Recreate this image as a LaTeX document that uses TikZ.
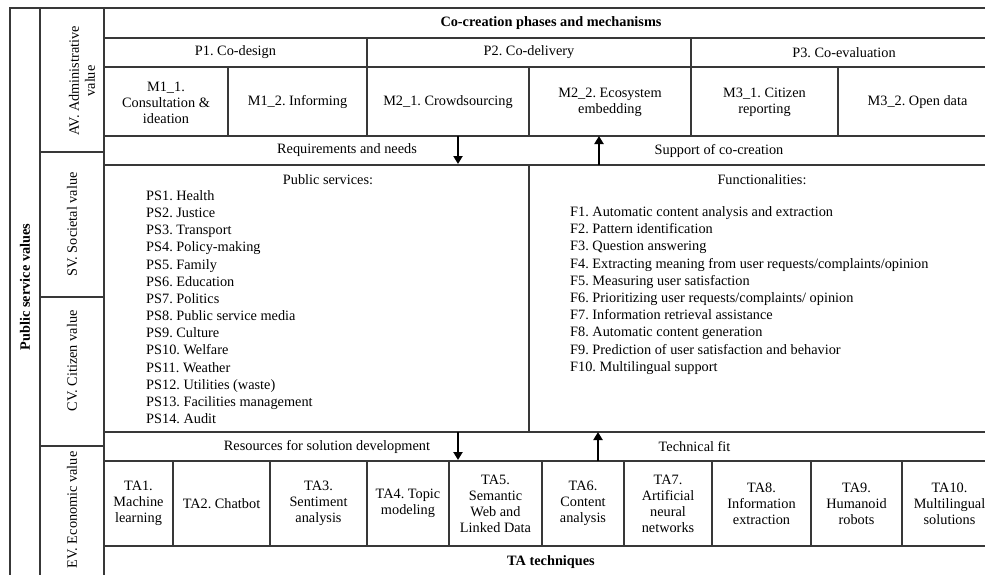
\documentclass[tikz,border=0pt]{standalone}
\usepackage{fontspec}
\setmainfont{Liberation Serif}
\usetikzlibrary{arrows.meta}
\newcommand{\basesize}{\fontsize{14.3}{16}\selectfont\frenchspacing}
\begin{document}
\begin{tikzpicture}[x=1pt,y=-1pt,
  every node/.style={font=\basesize},
  grid/.style={draw=black!78, line width=1.3pt},
  cell/.style={align=center, inner sep=0pt},
  boldtext/.style={font=\basesize\bfseries, inner sep=0pt},
  listitem/.style={anchor=west, inner sep=0pt, text height=10pt, text depth=3pt},
  flowarrow/.style={draw=black, line width=2.6pt, -{Triangle[length=8pt,width=9pt]}},
  vlabel/.style={rotate=90, align=center, inner sep=0pt}]
\fill[white] (0,0) rectangle (985,574);
\clip (0,0) rectangle (985,574);
% grid
\draw[grid] (10,580) -- (10,8) -- (997,8);
\draw[grid] (40,8) -- (40,580);
\draw[grid] (104,8) -- (104,580);
\draw[grid] (40,152) -- (104,152) (40,297) -- (104,297) (40,446) -- (104,446);
\foreach \y in {38,67,136,165,432,461,546} \draw[grid] (104,\y) -- (997,\y);
\draw[grid] (367,38) -- (367,136) (691,38) -- (691,136);
\foreach \x in {228,529,838} \draw[grid] (\x,67) -- (\x,136);
\draw[grid] (529,165) -- (529,432);
\foreach \x in {173,270,367,449,542,624,712,811,902} \draw[grid] (\x,461) -- (\x,546);
% left labels
\node[vlabel, font=\basesize\bfseries] (psv) at (25,287) {Public service values};
\node[vlabel] (av) at (82,81) {AV. Administrative\\value};
\node[vlabel] (sv) at (72,224.5) {SV. Societal value};
\node[vlabel] (cv) at (72,361) {CV. Citizen value};
\node[vlabel] (ev) at (72,510) {EV. Economic value};
% header
\node[boldtext] (title) at (551,23) {Co-creation phases and mechanisms};
\node[cell] (p1) at (235.5,52.5) {P1. Co-design};
\node[cell] (p2) at (529,52.5) {P2. Co-delivery};
\node[cell] (p3) at (844,52.5) {P3. Co-evaluation};
\node[cell] (m11) at (166,102.5) {M1\_1.\\Consultation \&\\ideation};
\node[cell] (m12) at (297.5,102.5) {M1\_2. Informing};
\node[cell] (m21) at (448,102.5) {M2\_1. Crowdsourcing};
\node[cell] (m22) at (610,102.5) {M2\_2. Ecosystem\\embedding};
\node[cell] (m31) at (764.5,102.5) {M3\_1. Citizen\\reporting};
\node[cell] (m32) at (917.5,102.5) {M3\_2. Open data};
\node[cell] (req) at (347,150.5) {Requirements and needs};
\node[cell] (sup) at (719,150.5) {Support of co-creation};
% middle
\node[cell] (pshead) at (328,180) {Public services:};
\node[cell] (fhead) at (762,180) {Functionalities:};
\foreach \t [count=\i] in {PS1. Health, PS2. Justice, PS3. Transport, PS4. Policy-making, PS5. Family, PS6. Education, PS7. Politics, PS8. Public service media, PS9. Culture, PS10. Welfare, PS11. Weather, PS12. Utilities (waste), PS13. Facilities management, PS14. Audit}
  \node[listitem] (ps\i) at (146,{197+17.15*(\i-1)}) {\t};
\foreach \t [count=\i] in {F1. Automatic content analysis and extraction, F2. Pattern identification, F3. Question answering, F4. Extracting meaning from user requests/complaints/opinion, F5. Measuring user satisfaction, F6. Prioritizing user requests/complaints/ opinion, F7. Information retrieval assistance, F8. Automatic content generation, F9. Prediction of user satisfaction and behavior, F10. Multilingual support}
  \node[listitem] (f\i) at (570,{213+17.2*(\i-1)}) {\t};
% bottom
\node[cell] (res) at (327,446.5) {Resources for solution development};
\node[cell] (tfit) at (694.5,446.5) {Technical fit};
\node[cell] (ta1) at (138.5,503.5) {TA1.\\Machine\\learning};
\node[cell] (ta2) at (221.5,503.5) {TA2. Chatbot};
\node[cell] (ta3) at (318.5,503.5) {TA3.\\Sentiment\\analysis};
\node[cell] (ta4) at (408,503.5) {TA4. Topic\\modeling};
\node[cell] (ta5) at (495.5,503.5) {TA5.\\Semantic\\Web and\\Linked Data};
\node[cell] (ta6) at (583,503.5) {TA6.\\Content\\analysis};
\node[cell] (ta7) at (668,503.5) {TA7.\\Artificial\\neural\\networks};
\node[cell] (ta8) at (761.5,503.5) {TA8.\\Information\\extraction};
\node[cell] (ta9) at (856.5,503.5) {TA9.\\Humanoid\\robots};
\node[cell] (ta10) at (949.5,503.5) {TA10.\\Multilingual\\solutions};
\node[boldtext] (tat) at (551,562) {TA techniques};
% arrows
\coordinate (a1s) at (458,136); \coordinate (a1e) at (458,164);
\coordinate (a2s) at (599,165); \coordinate (a2e) at (599,136);
\coordinate (a3s) at (458,432); \coordinate (a3e) at (458,460);
\coordinate (a4s) at (598,461); \coordinate (a4e) at (598,432);
\draw[flowarrow] (a1s) -- (a1e);
\draw[flowarrow] (a2s) -- (a2e);
\draw[flowarrow] (a3s) -- (a3e);
\draw[flowarrow] (a4s) -- (a4e);
\end{tikzpicture}
\end{document}
